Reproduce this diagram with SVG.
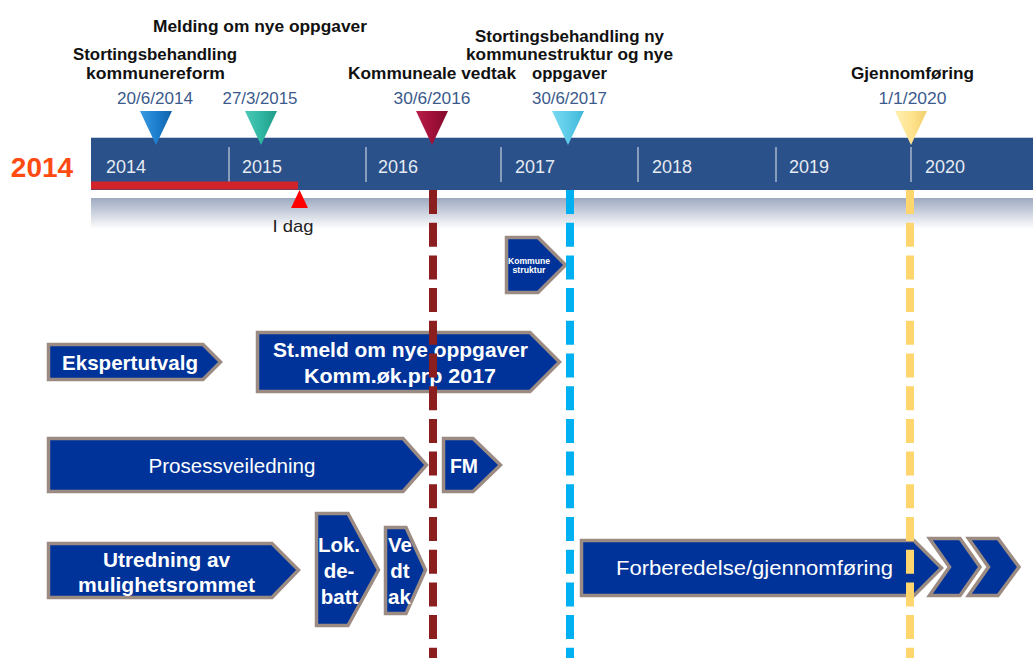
<svg xmlns="http://www.w3.org/2000/svg" width="1033" height="658" viewBox="0 0 1033 658">
  <defs>
    <linearGradient id="band" x1="0" y1="0" x2="0" y2="1">
      <stop offset="0" stop-color="#9eaac1"/>
      <stop offset="1" stop-color="#ffffff"/>
    </linearGradient>
    <linearGradient id="gBlue" x1="0" y1="0" x2="1" y2="0">
      <stop offset="0" stop-color="#3a9ae0"/><stop offset="0.5" stop-color="#1d7fcf"/><stop offset="1" stop-color="#0f62a8"/>
    </linearGradient>
    <linearGradient id="gTeal" x1="0" y1="0" x2="1" y2="0">
      <stop offset="0" stop-color="#4ccab6"/><stop offset="0.5" stop-color="#2fb6a2"/><stop offset="1" stop-color="#1f9a88"/>
    </linearGradient>
    <linearGradient id="gRed" x1="0" y1="0" x2="1" y2="0">
      <stop offset="0" stop-color="#b8204a"/><stop offset="0.5" stop-color="#a11038"/><stop offset="1" stop-color="#820a2c"/>
    </linearGradient>
    <linearGradient id="gCyan" x1="0" y1="0" x2="1" y2="0">
      <stop offset="0" stop-color="#7ad8f0"/><stop offset="0.5" stop-color="#5ccbe8"/><stop offset="1" stop-color="#3fb6d8"/>
    </linearGradient>
    <linearGradient id="gYellow" x1="0" y1="0" x2="1" y2="0">
      <stop offset="0" stop-color="#fff0b0"/><stop offset="0.5" stop-color="#ffe390"/><stop offset="1" stop-color="#f2cf6a"/>
    </linearGradient>
  </defs>
  <style>
    .title{font-family:"Liberation Sans",Arial,sans-serif;font-weight:bold;font-size:16.5px;fill:#111111;text-anchor:middle}
    .date{font-family:"Liberation Sans",Arial,sans-serif;font-size:16px;fill:#3b5a8c;text-anchor:middle}
    .year{font-family:"Liberation Sans",Arial,sans-serif;font-size:18px;fill:#e6eaf2}
    .sep{stroke:#a9b6cc;stroke-width:1.5}
    .node{fill:#003399;stroke:#9b8b82;stroke-width:3.5;stroke-linejoin:miter}
    .nt{font-family:"Liberation Sans",Arial,sans-serif;font-weight:bold;font-size:20.5px;fill:#ffffff;text-anchor:middle}
    .ntr{font-family:"Liberation Sans",Arial,sans-serif;font-size:20.5px;fill:#ffffff;text-anchor:middle}
    .small{font-family:"Liberation Sans",Arial,sans-serif;font-weight:bold;font-size:8.5px;fill:#ffffff;text-anchor:middle}
    .mline{fill:none;stroke-width:8;stroke-dasharray:24 8.7}
  </style>
  <rect width="1033" height="658" fill="#ffffff"/>

  <g id="timeline">
    <text x="42" y="176.5" font-family="'Liberation Sans',Arial,sans-serif" font-weight="bold" font-size="28" fill="#ff4a12" text-anchor="middle">2014</text>
    <rect x="91" y="198" width="942" height="31" fill="url(#band)"/>
    <rect x="91" y="137" width="942" height="53" fill="#2a5189"/>
    <line x1="91" y1="137.5" x2="1033" y2="137.5" stroke="#c5cedc" stroke-width="1"/>
    <line class="sep" x1="229" y1="147" x2="229" y2="182"/>
    <line class="sep" x1="366" y1="147" x2="366" y2="182"/>
    <line class="sep" x1="501" y1="147" x2="501" y2="182"/>
    <line class="sep" x1="638" y1="147" x2="638" y2="182"/>
    <line class="sep" x1="776" y1="147" x2="776" y2="182"/>
    <line class="sep" x1="911" y1="147" x2="911" y2="182"/>
    <text class="year" x="106" y="173">2014</text>
    <text class="year" x="242" y="173">2015</text>
    <text class="year" x="378" y="173">2016</text>
    <text class="year" x="515" y="173">2017</text>
    <text class="year" x="652" y="173">2018</text>
    <text class="year" x="789" y="173">2019</text>
    <text class="year" x="925" y="173">2020</text>
    <rect x="91" y="181.5" width="207" height="8" fill="#d2232a"/>
    <polygon points="291,208 308,208 299.5,190" fill="#ff0000"/>
    <text x="293" y="232" font-family="'Liberation Sans',Arial,sans-serif" font-size="17" fill="#222222" text-anchor="middle" textLength="41" lengthAdjust="spacingAndGlyphs">I dag</text>
  </g>

  <g id="milestone-2014">
    <text class="title" x="155" y="60" textLength="164" lengthAdjust="spacingAndGlyphs">Stortingsbehandling</text>
    <text class="title" x="155.5" y="79" textLength="139" lengthAdjust="spacingAndGlyphs">kommunereform</text>
    <text class="date" x="155" y="104" textLength="76" lengthAdjust="spacingAndGlyphs">20/6/2014</text>
    <polygon points="140,111 172,111 156,145" fill="url(#gBlue)"/>
  </g>
  <g id="milestone-2015">
    <text class="title" x="260" y="32" textLength="214" lengthAdjust="spacingAndGlyphs">Melding om nye oppgaver</text>
    <text class="date" x="260" y="104" textLength="75" lengthAdjust="spacingAndGlyphs">27/3/2015</text>
    <polygon points="245,111 277,111 261,145" fill="url(#gTeal)"/>
  </g>
  <g id="milestone-2016">
    <text class="title" x="432" y="79" textLength="168" lengthAdjust="spacingAndGlyphs">Kommuneale vedtak</text>
    <text class="date" x="432" y="104" textLength="77" lengthAdjust="spacingAndGlyphs">30/6/2016</text>
    <polygon points="416,111 448,111 432,145" fill="url(#gRed)"/>
  </g>
  <g id="milestone-2017">
    <text class="title" x="569.5" y="42" textLength="189" lengthAdjust="spacingAndGlyphs">Stortingsbehandling ny</text>
    <text class="title" x="569.5" y="60" textLength="207" lengthAdjust="spacingAndGlyphs">kommunestruktur og nye</text>
    <text class="title" x="569.5" y="79" textLength="75" lengthAdjust="spacingAndGlyphs">oppgaver</text>
    <text class="date" x="569.5" y="104" textLength="75" lengthAdjust="spacingAndGlyphs">30/6/2017</text>
    <polygon points="552,111 584,111 568,145" fill="url(#gCyan)"/>
  </g>
  <g id="milestone-2020">
    <text class="title" x="912.5" y="79" textLength="123" lengthAdjust="spacingAndGlyphs">Gjennomføring</text>
    <text class="date" x="912.5" y="104" textLength="68" lengthAdjust="spacingAndGlyphs">1/1/2020</text>
    <polygon points="895,111 927,111 911,145" fill="url(#gYellow)"/>
  </g>

  <g id="node-kommunestruktur">
    <polygon class="node" points="506.5,237.5 538,237.5 565.5,265 538,292.5 506.5,292.5"/>
    <text class="small" x="529" y="264" textLength="42" lengthAdjust="spacingAndGlyphs">Kommune</text>
    <text class="small" x="529" y="273" textLength="33" lengthAdjust="spacingAndGlyphs">struktur</text>
  </g>
  <g id="node-ekspertutvalg">
    <polygon class="node" points="48.5,344.5 203,344.5 220.5,362 203,379.5 48.5,379.5"/>
    <text class="nt" x="130" y="370" textLength="136" lengthAdjust="spacingAndGlyphs">Ekspertutvalg</text>
  </g>
  <g id="node-stmeld">
    <polygon class="node" points="257.5,332.5 530,332.5 559.5,362 530,391.5 257.5,391.5"/>
    <text class="nt" x="400.5" y="357" textLength="255" lengthAdjust="spacingAndGlyphs">St.meld om nye oppgaver</text>
    <text class="nt" x="400" y="383" textLength="192" lengthAdjust="spacingAndGlyphs">Komm.øk.prp 2017</text>
  </g>
  <g id="node-prosessveiledning">
    <polygon class="node" points="48.5,438.5 403,438.5 426.5,465 403,491.5 48.5,491.5"/>
    <text class="ntr" x="232" y="473" textLength="167" lengthAdjust="spacingAndGlyphs">Prosessveiledning</text>
  </g>
  <g id="node-fm">
    <polygon class="node" points="443.5,438.5 473,438.5 500.5,465 473,491.5 443.5,491.5"/>
    <text class="nt" x="464" y="473" textLength="28" lengthAdjust="spacingAndGlyphs">FM</text>
  </g>
  <g id="node-utredning">
    <polygon class="node" points="48.5,543.5 272,543.5 298.5,570 272,597.5 48.5,597.5"/>
    <text class="nt" x="166.5" y="567" textLength="127" lengthAdjust="spacingAndGlyphs">Utredning av</text>
    <text class="nt" x="166.5" y="592" textLength="177" lengthAdjust="spacingAndGlyphs">mulighetsrommet</text>
  </g>
  <g id="node-lokdebatt">
    <polygon class="node" points="316.5,513.5 348,513.5 378.5,570 348,625.5 316.5,625.5"/>
    <text class="nt" x="339" y="552">Lok.</text>
    <text class="nt" x="339" y="578">de-</text>
    <text class="nt" x="339.5" y="604">batt</text>
  </g>
  <g id="node-vedtak">
    <polygon class="node" points="385.5,527.5 406,527.5 425.5,570 406,613.5 385.5,613.5"/>
    <text class="nt" x="400" y="552">Ve</text>
    <text class="nt" x="400" y="578">dt</text>
    <text class="nt" x="399.5" y="604">ak</text>
  </g>
  <g id="node-forberedelse">
    <polygon class="node" points="581.5,540.5 914,540.5 941.5,568 914,595.5 581.5,595.5"/>
    <text class="ntr" x="754.5" y="575" textLength="277" lengthAdjust="spacingAndGlyphs">Forberedelse/gjennomføring</text>
    <polygon class="node" points="929.5,538.5 960,538.5 980,567 960,595.5 929.5,595.5 949.5,567"/>
    <polygon class="node" points="968.5,538.5 998,538.5 1019,567 998,595.5 968.5,595.5 988.5,567"/>
  </g>

  <g id="milestone-lines">
    <line class="mline" x1="433" y1="190" x2="433" y2="658" stroke="#8b1f20"/>
    <line class="mline" x1="570" y1="190" x2="570" y2="658" stroke="#00b0f0"/>
    <line class="mline" x1="910" y1="190" x2="910" y2="658" stroke="#ffd66e"/>
  </g>
</svg>
